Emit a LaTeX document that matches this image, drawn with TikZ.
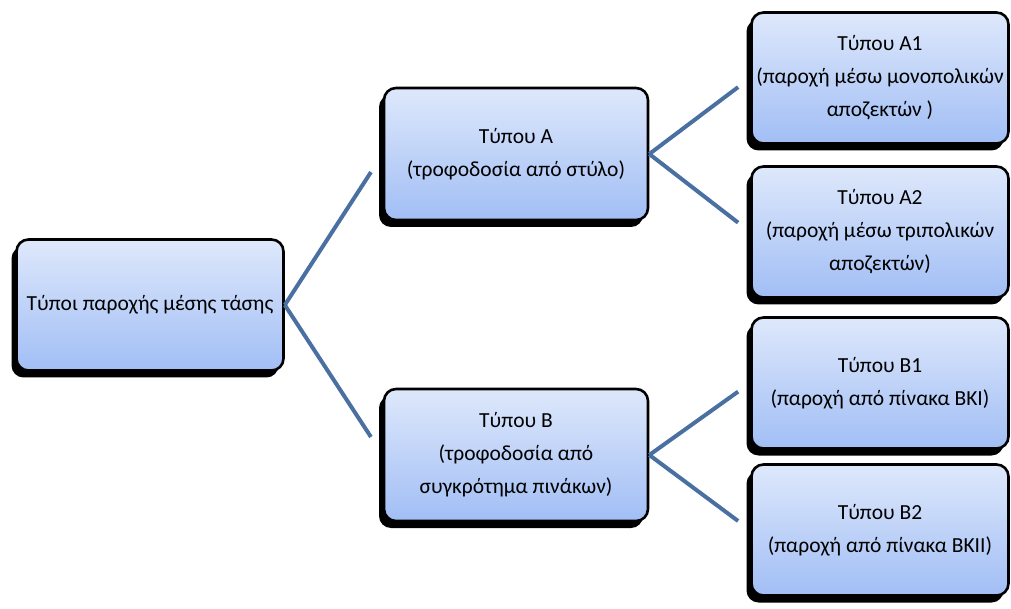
\documentclass[tikz,border=0pt]{standalone}
\usepackage{fontspec}
\setmainfont{Carlito}
\usepackage{tikz}
\usetikzlibrary{calc,shadows}
\definecolor{boxtop}{HTML}{DEE8FB}
\definecolor{boxbot}{HTML}{A1BEF5}
\definecolor{link}{HTML}{4A70A2}
\definecolor{text}{HTML}{000000}
\tikzset{
  box/.style={draw=black, line width=2.6pt, rounded corners=12pt,
    top color=boxtop, bottom color=boxbot, text=text, align=center,
    font=\fontsize{21.5}{33}\selectfont, inner sep=0pt,
    drop shadow={shadow xshift=-5pt, shadow yshift=-7pt, fill=black, opacity=1}},
  mid/.style={box, minimum width=264pt, minimum height=132pt},
  leaf/.style={box, minimum width=257pt, minimum height=131pt},
  conn/.style={draw=link, line width=4pt, line cap=butt},
}

\begin{document}
\begin{tikzpicture}[x=1pt, y=1pt]
  \useasboundingbox (0,0) rectangle (1011,608);
  \node[box, minimum width=267pt, minimum height=131pt] (root) at (150,303) {Τύποι παροχής μέσης τάσης};
  \node[mid] (a) at (516,454) {Τύπου Α\\(τροφοδοσία από στύλο)};
  \node[mid] (b) at (516,153) {Τύπου Β\\(τροφοδοσία από\\συγκρότημα πινάκων)};
  \node[leaf] (a1) at (880,530) {Τύπου Α1\\(παροχή μέσω μονοπολικών\\αποζεκτών )};
  \node[leaf] (a2) at (880,376) {Τύπου Α2\\(παροχή μέσω τριπολικών\\αποζεκτών)};
  \node[leaf] (b1) at (880,225) {Τύπου Β1\\(παροχή από πίνακα ΒΚΙ)};
  \node[leaf] (b2) at (880,78) {Τύπου Β2\\(παροχή από πίνακα ΒΚΙΙ)};
  \draw[conn] (root.east) -- ($(a.west)!0.12!(root.east)$);
  \draw[conn] (root.east) -- ($(b.west)!0.12!(root.east)$);
  \draw[conn] (a.east) -- ($(a1.west)!0.12!(a.east)$);
  \draw[conn] (a.east) -- ($(a2.west)!0.12!(a.east)$);
  \draw[conn] (b.east) -- ($(b1.west)!0.12!(b.east)$);
  \draw[conn] (b.east) -- ($(b2.west)!0.12!(b.east)$);
\end{tikzpicture}
\end{document}
